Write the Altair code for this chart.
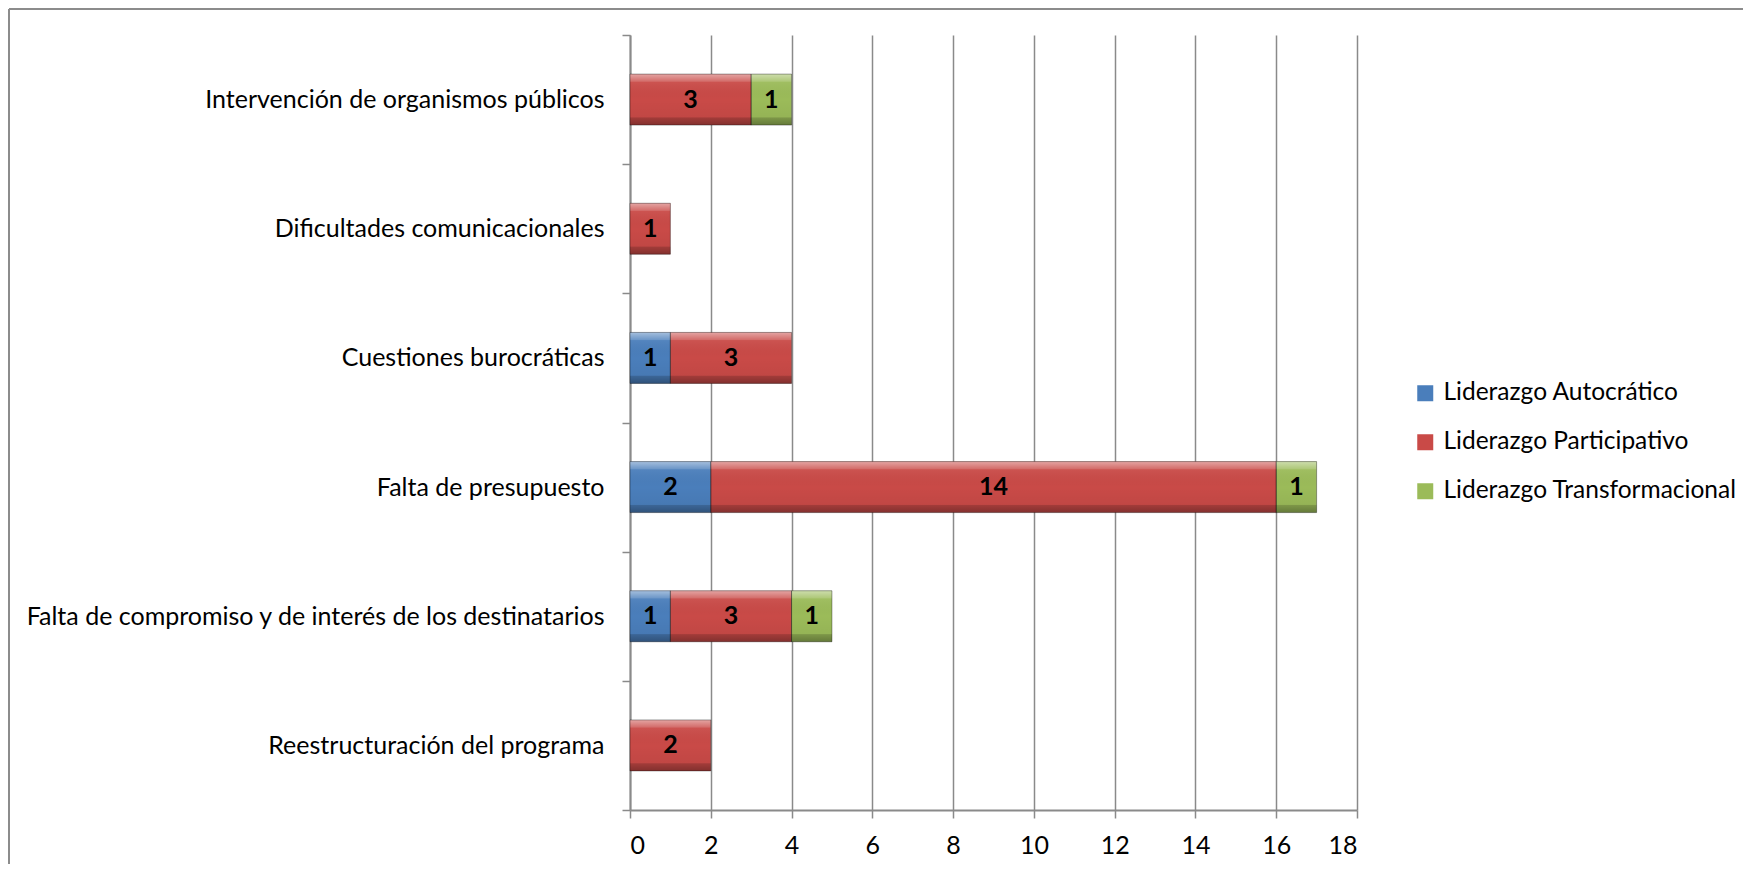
import altair as alt
import pandas as pd

categories = [
    "Intervención de organismos públicos",
    "Dificultades comunicacionales",
    "Cuestiones burocráticas",
    "Falta de presupuesto",
    "Falta de compromiso y de interés de los destinatarios",
    "Reestructuración del programa",
]
series = ["Liderazgo Autocrático", "Liderazgo Participativo", "Liderazgo Transformacional"]
autocratico = [0, 0, 1, 2, 1, 0]
participativo = [3, 1, 3, 14, 3, 2]
transformacional = [1, 0, 0, 1, 1, 0]
colors = ["#4a7ebb", "#c94a47", "#9bbb59"]
x_ticks = [0, 2, 4, 6, 8, 10, 12, 14, 16, 18]

rows = []
for i, cat in enumerate(categories):
    start = 0
    for s, vals in zip(series, [autocratico, participativo, transformacional]):
        v = vals[i]
        if v > 0:
            rows.append({"category": cat, "series": s, "value": v,
                         "start": start, "end": start + v, "mid": start + v / 2})
            start += v
df = pd.DataFrame(rows)

FONT = "Lato"
GRID = "#8a8a8a"

y_enc = alt.Y(
    "category:N", sort=categories,
    scale=alt.Scale(paddingInner=0, paddingOuter=0),
    axis=alt.Axis(title=None, tickBand="extent", tickSize=8, tickColor=GRID, tickWidth=1.5,
                  domainColor=GRID, domainWidth=2, labelFont=FONT, labelFontSize=25,
                  labelColor="black", labelPadding=18, labelLimit=0, grid=False),
)
x_enc = alt.X(
    "start:Q", scale=alt.Scale(domain=[0, 18], nice=False, zero=True),
    axis=alt.Axis(title=None, values=x_ticks, grid=True, gridColor=GRID, gridWidth=1.5,
                  tickSize=8, tickColor=GRID, tickWidth=1.5, domainColor=GRID, domainWidth=2,
                  labelFont=FONT, labelFontSize=25, labelColor="black", labelPadding=15),
)

base = alt.Chart(df)

bars = base.mark_bar(size=51).encode(
    y=y_enc, x=x_enc, x2="end:Q",
    color=alt.Color(
        "series:N", scale=alt.Scale(domain=series, range=colors),
        legend=alt.Legend(title=None, orient="none", legendX=783, legendY=346,
                          symbolType="square", symbolSize=256, symbolStrokeWidth=0,
                          labelFont=FONT, labelFontSize=24.5, labelColor="black",
                          rowPadding=24, labelOffset=6, padding=0, labelLimit=0,
                          direction="vertical"),
    ),
)

shade = base.mark_bar(
    size=51,
    fill=alt.Gradient(
        gradient="linear", x1=0, y1=0, x2=0, y2=1,
        stops=[
            alt.GradientStop(color="rgba(255,255,255,0.5)", offset=0),
            alt.GradientStop(color="rgba(255,255,255,0.2)", offset=0.14),
            alt.GradientStop(color="rgba(255,255,255,0.05)", offset=0.16),
            alt.GradientStop(color="rgba(0,0,0,0.0)", offset=0.5),
            alt.GradientStop(color="rgba(0,0,0,0.04)", offset=0.84),
            alt.GradientStop(color="rgba(0,0,0,0.2)", offset=0.86),
            alt.GradientStop(color="rgba(0,0,0,0.35)", offset=1),
        ],
    ),
    stroke="rgba(0,0,0,0.35)", strokeWidth=1,
).encode(y=y_enc, x=x_enc, x2="end:Q")

labels = base.mark_text(font=FONT, fontSize=25, fontWeight="bold", color="black").encode(
    y=y_enc, x=alt.X("mid:Q"), text="value:Q"
)

one = pd.DataFrame({"a": [0]})
top_border = alt.Chart(one).mark_rule(color="#8c8c8c", strokeWidth=2).encode(
    x=alt.value(-621), x2=alt.value(1113), y=alt.value(-26)
)
left_border = alt.Chart(one).mark_rule(color="#8c8c8c", strokeWidth=2).encode(
    x=alt.value(-621), y=alt.value(-26), y2=alt.value(829)
)

chart = alt.layer(bars, shade, labels, top_border, left_border).properties(
    width=727, height=775,
    padding={"left": 622, "top": 27, "right": 386, "bottom": 54},
    autosize=alt.AutoSizeParams(type="none"),
).configure_view(stroke=None)

chart.save("out.html", embed_options={"renderer": "svg", "actions": False})
